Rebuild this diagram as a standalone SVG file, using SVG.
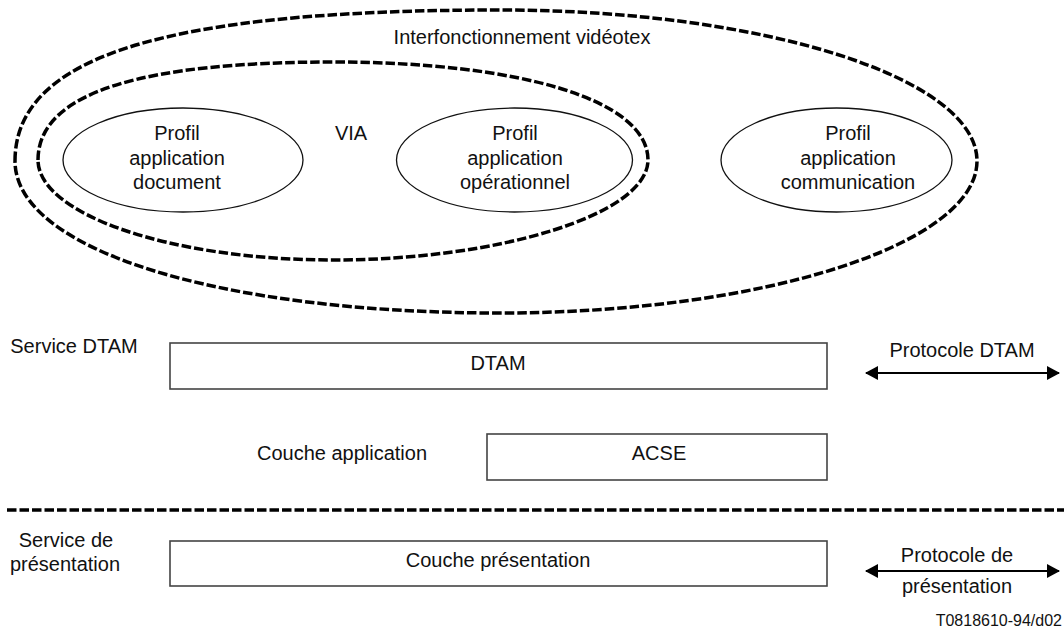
<svg xmlns="http://www.w3.org/2000/svg" width="1064" height="629" viewBox="0 0 1064 629">
<style>
text{font-family:"Liberation Sans",Arial,sans-serif;font-size:20px;fill:#111;text-anchor:middle}
.dash{fill:none;stroke:#000;stroke-width:3.5;stroke-dasharray:9.5 3}
.ell{fill:none;stroke:#111;stroke-width:1.3}
.box{fill:#fff;stroke:#444;stroke-width:1.6}
.arr{stroke:#000;stroke-width:2.2;fill:none;marker-start:url(#ah);marker-end:url(#ah)}
</style>
<defs>
<marker id="ah" markerUnits="userSpaceOnUse" markerWidth="14" markerHeight="16" refX="12" refY="7" orient="auto-start-reverse" viewBox="0 0 14 14">
<path d="M0,0 L13,7 L0,14 Z" fill="#000"/>
</marker>
</defs>
<g id="outer-group">
<path class="dash" d="M15,161 C15,55 170,10 500,10 C763,10 977,78 977,161 C977,244 763,313 500,313 C220,313 15,250 15,161 Z"/>
<text x="522" y="44">Interfonctionnement vidéotex</text>
</g>
<g id="via-group">
<path class="dash" d="M38,160 C38,90 150,62 333,62 C520,62 648,100 648,160 C648,214 500,260 333,260 C170,260 38,214 38,160 Z"/>
<text x="351" y="140">VIA</text>
</g>
<g id="profil-document">
<ellipse class="ell" cx="183" cy="160" rx="120" ry="52"/>
<text x="177" y="140">Profil</text>
<text x="177" y="165">application</text>
<text x="177" y="189">document</text>
</g>
<g id="profil-operationnel">
<ellipse class="ell" cx="514.5" cy="160" rx="118" ry="52"/>
<text x="515" y="140">Profil</text>
<text x="515" y="165">application</text>
<text x="515" y="189">opérationnel</text>
</g>
<g id="profil-communication">
<ellipse class="ell" cx="836.5" cy="160" rx="115.5" ry="52"/>
<text x="848" y="140">Profil</text>
<text x="848" y="165">application</text>
<text x="848" y="189">communication</text>
</g>
<g id="service-dtam-label">
<text x="74" y="353">Service DTAM</text>
</g>
<g id="dtam">
<rect class="box" x="170" y="343" width="657" height="46"/>
<text x="498" y="370">DTAM</text>
</g>
<g id="couche-application-label">
<text x="342" y="460">Couche application</text>
</g>
<g id="acse">
<rect class="box" x="487" y="434" width="340" height="46"/>
<text x="659" y="460">ACSE</text>
</g>
<g id="separator">
<line class="dash" x1="7" y1="510" x2="1064" y2="510"/>
</g>
<g id="service-presentation-label">
<text x="66" y="547">Service de</text>
<text x="65" y="571">présentation</text>
</g>
<g id="couche-presentation">
<rect class="box" x="170" y="541" width="657" height="45"/>
<text x="498" y="567">Couche présentation</text>
</g>
<g id="connectors">
<line class="arr" x1="866" y1="373" x2="1059" y2="373"/>
<line class="arr" x1="866" y1="571" x2="1059" y2="571"/>
</g>
<g id="protocole-dtam-label">
<text x="962" y="357">Protocole DTAM</text>
</g>
<g id="protocole-presentation-label">
<text x="957" y="562">Protocole de</text>
<text x="957" y="593">présentation</text>
</g>
<g id="ref">
<text x="1062" y="626" style="font-size:16px;text-anchor:end">T0818610-94/d02</text>
</g>
</svg>
